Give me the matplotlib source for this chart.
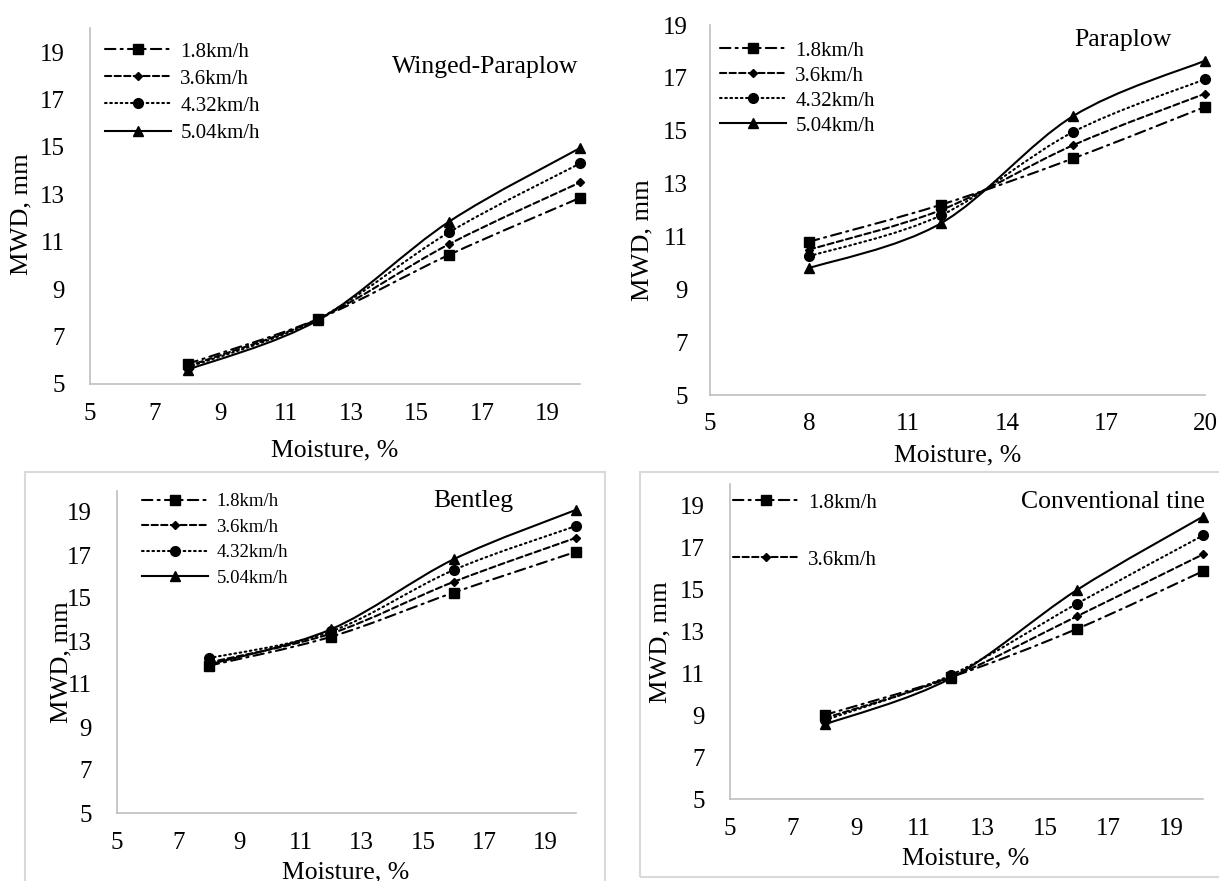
import numpy as np
import matplotlib
matplotlib.use("Agg")
import matplotlib.pyplot as plt
from matplotlib.path import Path
from matplotlib.patches import PathPatch, Rectangle
from matplotlib.lines import Line2D

plt.rcParams['font.family'] = ['Liberation Serif', 'DejaVu Serif']

# moisture levels (%)
moisture = [8, 12, 16, 20]
speeds = ['1.8km/h', '3.6km/h', '4.32km/h', '5.04km/h']

# MWD (mm) per tool, one list per forward speed
winged_18 = [5.85, 7.75, 10.45, 12.85]
winged_36 = [5.75, 7.75, 10.9, 13.5]
winged_432 = [5.7, 7.75, 11.4, 14.3]
winged_504 = [5.6, 7.7, 11.85, 14.95]

para_18 = [10.8, 12.2, 13.95, 15.9]
para_36 = [10.5, 12.0, 14.45, 16.4]
para_432 = [10.25, 11.8, 14.95, 16.95]
para_504 = [9.8, 11.5, 15.55, 17.65]

bent_18 = [11.85, 13.2, 15.25, 17.15]
bent_36 = [12.0, 13.35, 15.75, 17.8]
bent_432 = [12.2, 13.45, 16.3, 18.35]
bent_504 = [11.9, 13.55, 16.8, 19.1]

conv_18 = [9.0, 10.8, 13.1, 15.85]
conv_36 = [8.85, 10.8, 13.7, 16.65]
conv_432 = [8.75, 10.9, 14.3, 17.55]
conv_504 = [8.55, 10.75, 14.95, 18.45]

W, H = 1219, 881
fig = plt.figure(figsize=(W / 100, H / 100), dpi=100)


def fx(x):
    return x / W


def fy(y):
    return 1 - y / H


# line style, marker, marker size for each speed
styles = [
    ((0, (5, 2.5, 1, 2.5)), 's', 6.5),
    ((0, (3, 1.6)), 'D', 4.5),
    ((0, (0.8, 1.7)), 'o', 7),
    ('-', '^', 7.5),
]


def smooth_path(xs, ys):
    # excel-like smoothed line: cubic bezier through the points
    pts = np.column_stack([xs, ys]).astype(float)
    n = len(pts)
    verts = [pts[0]]
    codes = [Path.MOVETO]
    for i in range(n - 1):
        p0 = pts[i - 1] if i > 0 else pts[i]
        p1, p2 = pts[i], pts[i + 1]
        p3 = pts[i + 2] if i + 2 < n else pts[i + 1]
        verts += [p1 + (p2 - p0) / 6, p2 - (p3 - p1) / 6, p2]
        codes += [Path.CURVE4] * 3
    return Path(verts, codes)


def panel(box, xticks, ylim_top, series, title, title_pos, title_ha,
          leg_pos, leg_size, leg_spacing, n_leg, xlab_pos, ylab_pos,
          ypad, xpad):
    left, right, bottom, top = box
    ax = fig.add_axes([fx(left), fy(bottom), fx(right) - fx(left), fy(top) - fy(bottom)])
    ax.set_xlim(5, 20)
    ax.set_ylim(5, ylim_top)
    ax.set_xticks(xticks)
    ax.set_yticks(range(5, 20, 2))
    for s in ['top', 'right']:
        ax.spines[s].set_visible(False)
    for s in ['left', 'bottom']:
        ax.spines[s].set_color('#bfbfbf')
        ax.spines[s].set_linewidth(1.2)
    ax.tick_params(length=0, labelsize=18)
    ax.tick_params(axis='y', pad=ypad)
    ax.tick_params(axis='x', pad=xpad)
    ax.patch.set_alpha(0)

    handles = []
    for vals, (ls, mk, ms) in zip(series, styles):
        patch = PathPatch(smooth_path(moisture, vals), fill=False, edgecolor='black',
                          linewidth=1.5, linestyle=ls, capstyle='round', clip_on=False)
        ax.add_patch(patch)
        ax.plot(moisture, vals, linestyle='none', marker=mk, markersize=ms,
                color='black', clip_on=False)
        handles.append(Line2D([], [], color='black', linewidth=1.5, linestyle=ls,
                              marker=mk, markersize=ms, dash_capstyle='round'))

    ax.legend(handles[:n_leg], speeds[:n_leg], loc='upper left',
              bbox_to_anchor=(fx(leg_pos[0]), fy(leg_pos[1])),
              bbox_transform=fig.transFigure, frameon=False, fontsize=leg_size,
              handlelength=66 / (leg_size * 100 / 72), handletextpad=0.45,
              labelspacing=leg_spacing, borderpad=0, borderaxespad=0, numpoints=1)

    fig.text(fx(title_pos[0]), fy(title_pos[1]), title, fontsize=18.5,
             ha=title_ha, va='center')
    fig.text(fx(xlab_pos[0]), fy(xlab_pos[1]), 'Moisture, %', fontsize=18.5,
             ha='center', va='center')
    fig.text(fx(ylab_pos[0]), fy(ylab_pos[1]), 'MWD, mm', fontsize=19,
             ha='center', va='center', rotation=90)
    return ax


# frames around the two lower charts
fig.patches.append(Rectangle((fx(25), fy(895)), fx(605) - fx(25), fy(472) - fy(895),
                             transform=fig.transFigure, fill=False,
                             edgecolor='#d9d9d9', linewidth=1.5))
fig.patches.append(Rectangle((fx(640), fy(877)), fx(1230) - fx(640), fy(472) - fy(877),
                             transform=fig.transFigure, fill=False,
                             edgecolor='#d9d9d9', linewidth=1.5))

panel((89.5, 580, 384, 28.3), range(5, 20, 2), 20,
      [winged_18, winged_36, winged_432, winged_504],
      'Winged-Paraplow', (578, 67), 'right',
      (105, 42), 15, 0.36, 4, (335, 450), (21, 214), 18, 14)

panel((710, 1205, 395, 25), range(5, 21, 3), 19,
      [para_18, para_36, para_432, para_504],
      'Paraplow', (1123, 40), 'center',
      (720, 41), 15, 0.26, 4, (958, 455), (642, 240), 16, 13)

panel((117, 576, 813, 490.5), range(5, 20, 2), 20,
      [bent_18, bent_36, bent_432, bent_504],
      'Bentleg', (473, 501), 'center',
      (142, 493), 13.5, 0.45, 4, (346, 872), (61, 662), 18, 14)

panel((730, 1203, 799, 484), range(5, 20, 2), 20,
      [conv_18, conv_36, conv_432, conv_504],
      'Conventional tine', (1205, 502), 'right',
      (733, 493), 15, 1.8, 2, (966, 858), (660, 642), 18, 14)

fig.savefig('out.png', dpi=100)
